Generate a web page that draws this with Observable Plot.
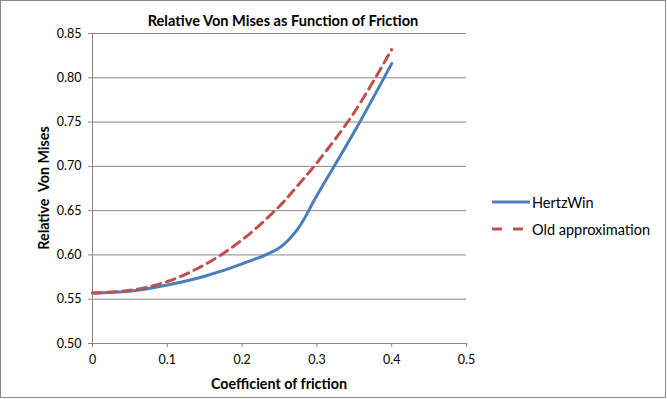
<!DOCTYPE html>
<html>
<head>
<meta charset="utf-8">
<script src="https://cdn.jsdelivr.net/npm/d3@7"></script>
<script src="https://cdn.jsdelivr.net/npm/@observablehq/plot@0.6"></script>
<style>
  html, body { margin: 0; padding: 0; background: #fff; }
  #chart { position: relative; width: 667px; height: 399px; font-family: Lato, "Open Sans", sans-serif; }
  #frame { position: absolute; left: 0; top: 0; width: 664px; height: 396px; border: 1px solid #8a8a8a; pointer-events: none; }
  .t { position: absolute; white-space: pre; color: #000; }
  #title { left: 283px; top: 20px; transform: translate(-50%, -50%); font-weight: bold; font-size: 14.6px; }
  #xlabel { left: 279px; top: 383px; transform: translate(-50%, -50%); font-weight: bold; font-size: 14.3px; }
  #ylabel { left: 43px; top: 188px; transform: translate(-50%, -50%) rotate(-90deg); font-weight: bold; font-size: 14.3px; }
  .leg { position: absolute; left: 492px; font-size: 14.5px; display: flex; align-items: center; }
  .leg svg { margin-right: 2px; }
  svg.plot { position: absolute; left: 0; top: 0; }
</style>
</head>
<body>
<div id="chart">
  <div id="frame"></div>
</div>
<script>
const friction = [0, 0.05, 0.1, 0.15, 0.2, 0.25, 0.275, 0.3, 0.35, 0.4];
const hertzWin = [0.557, 0.559, 0.566, 0.576, 0.590, 0.608, 0.630, 0.667, 0.739, 0.816];
const oldApprox = [0.557, 0.560, 0.570, 0.589, 0.617, 0.655, 0.679, 0.704, 0.761, 0.832];
const xTicks = [0, 0.1, 0.2, 0.3, 0.4, 0.5];
const xTickLabels = ["0", "0.1", "0.2", "0.3", "0.4", "0.5"];
const yTicks = [0.50, 0.55, 0.60, 0.65, 0.70, 0.75, 0.80, 0.85];
const yTickLabels = ["0.50", "0.55", "0.60", "0.65", "0.70", "0.75", "0.80", "0.85"];
const seriesNames = ["HertzWin", "Old approximation"];
const seriesColors = ["#4a7ebb", "#c0504d"];
const title = "Relative Von Mises as Function of Friction";
const xTitle = "Coefficient of friction";
const yTitle = "Relative  Von Mises";

const blue = friction.map((x, i) => ({x, y: hertzWin[i]}));
const red = friction.map((x, i) => ({x, y: oldApprox[i]}));
const grid = "#868686";

const plot = Plot.plot({
  width: 667,
  height: 399,
  marginLeft: 92,
  marginRight: 201,
  marginTop: 33,
  marginBottom: 56,
  style: {fontFamily: "Lato, 'Open Sans', sans-serif", fontSize: "12.5px", color: "#000", background: "transparent"},
  x: {domain: [0, 0.5]},
  y: {domain: [0.5, 0.85]},
  marks: [
    Plot.ruleY(yTicks.slice(1), {stroke: grid, strokeWidth: 1, strokeOpacity: 1}),
    Plot.ruleX([0], {stroke: grid, strokeWidth: 1}),
    Plot.ruleY([0.5], {stroke: grid, strokeWidth: 1}),
    Plot.axisY({ticks: yTicks, tickFormat: (d, i) => yTickLabels[i], tickSize: 4, tickPadding: 7, stroke: grid, label: null, fill: "#000"}),
    Plot.axisX({ticks: xTicks, tickFormat: (d, i) => xTickLabels[i], tickSize: 4, tickPadding: 8, stroke: grid, label: null, fill: "#000"}),
    Plot.line(blue, {x: "x", y: "y", stroke: seriesColors[0], strokeWidth: 3, curve: "catmull-rom"}),
    Plot.line(red, {x: "x", y: "y", stroke: seriesColors[1], strokeWidth: 3, strokeDasharray: "9,6", curve: "catmull-rom"})
  ]
});
const chart = document.getElementById("chart");
chart.insertBefore(plot, chart.firstChild);

function addText(id, text) {
  const d = document.createElement("div");
  d.className = "t"; d.id = id; d.textContent = text;
  chart.appendChild(d);
}
addText("title", title);
addText("xlabel", xTitle);
addText("ylabel", yTitle);

const legendY = [202, 229];
seriesNames.forEach((name, i) => {
  const d = document.createElement("div");
  d.className = "leg";
  d.style.top = (legendY[i] - 10) + "px";
  d.style.height = "20px";
  const dash = i === 1 ? ' stroke-dasharray="10,11"' : '';
  d.innerHTML = `<svg width="38" height="6"><line x1="0" y1="3" x2="38" y2="3" stroke="${seriesColors[i]}" stroke-width="3"${dash}/></svg><span>${name}</span>`;
  chart.appendChild(d);
});
</script>
</body>
</html>
